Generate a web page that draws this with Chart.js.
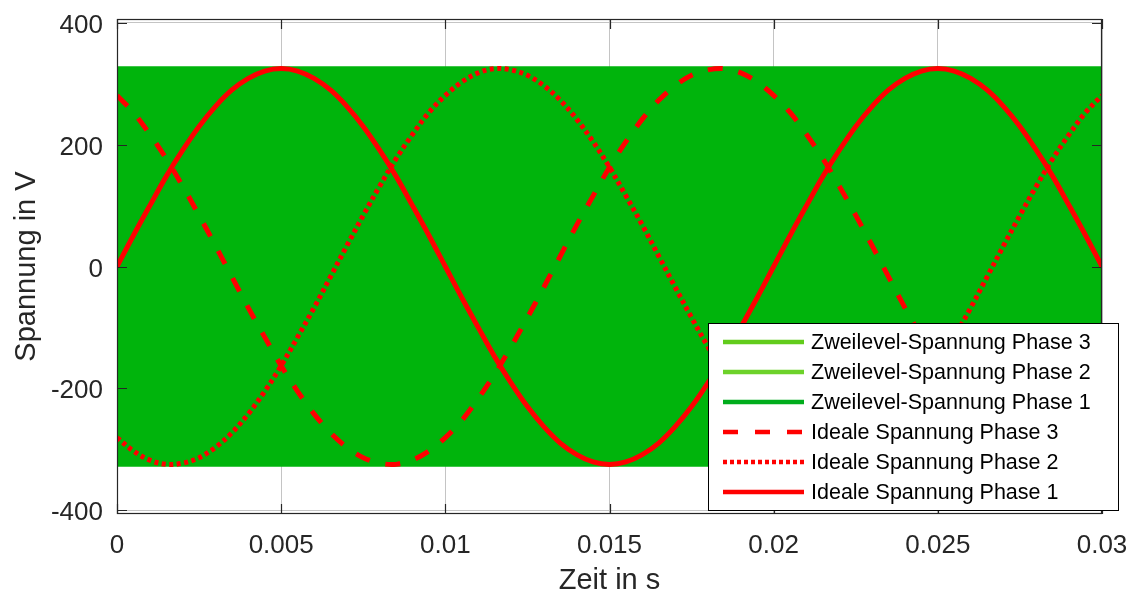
<!DOCTYPE html>
<html>
<head>
<meta charset="utf-8">
<script src="https://cdn.jsdelivr.net/npm/chart.js@4/dist/chart.umd.min.js"></script>
<style>
    html, body { margin: 0; padding: 0; background: #fff; }
    #wrap { width: 1135px; height: 595px; }
</style>
</head>
<body>
<div id="wrap"><canvas id="spannungChart" width="1135" height="595"></canvas></div>
<script>
// Zeitpunkte in s
const zeit = [0, 0.0005, 0.001, 0.0015, 0.002, 0.0025, 0.003, 0.0035, 0.004, 0.0045,
    0.005, 0.0055, 0.006, 0.0065, 0.007, 0.0075, 0.008, 0.0085, 0.009, 0.0095,
    0.01, 0.0105, 0.011, 0.0115, 0.012, 0.0125, 0.013, 0.0135, 0.014, 0.0145,
    0.015, 0.0155, 0.016, 0.0165, 0.017, 0.0175, 0.018, 0.0185, 0.019, 0.0195,
    0.02, 0.0205, 0.021, 0.0215, 0.022, 0.0225, 0.023, 0.0235, 0.024, 0.0245,
    0.025, 0.0255, 0.026, 0.0265, 0.027, 0.0275, 0.028, 0.0285, 0.029, 0.0295, 0.03];

// Ideale Spannungen in V
const idealPhase1 = [0, 51, 100, 148, 191, 230, 263, 290, 309, 321,
    325, 321, 309, 290, 263, 230, 191, 148, 100, 51,
    0, -51, -100, -148, -191, -230, -263, -290, -309, -321,
    -325, -321, -309, -290, -263, -230, -191, -148, -100, -51,
    0, 51, 100, 148, 191, 230, 263, 290, 309, 321,
    325, 321, 309, 290, 263, 230, 191, 148, 100, 51, 0];
const idealPhase2 = [-281, -303, -318, -325, -323, -314, -297, -273, -242, -205,
    -163, -116, -68, -17, 34, 84, 132, 177, 217, 253,
    281, 303, 318, 325, 323, 314, 297, 273, 242, 205,
    163, 116, 68, 17, -34, -84, -132, -177, -217, -253,
    -281, -303, -318, -325, -323, -314, -297, -273, -242, -205,
    -163, -116, -68, -17, 34, 84, 132, 177, 217, 253, 281];
const idealPhase3 = [281, 253, 217, 177, 132, 84, 34, -17, -68, -116,
    -163, -205, -242, -273, -297, -314, -323, -325, -318, -303,
    -281, -253, -217, -177, -132, -84, -34, 17, 68, 116,
    163, 205, 242, 273, 297, 314, 323, 325, 318, 303,
    281, 253, 217, 177, 132, 84, 34, -17, -68, -116,
    -163, -205, -242, -273, -297, -314, -323, -325, -318, -303, -281];

// Zweilevel-Spannung: schaltet so schnell, dass nur das Band sichtbar ist
const zweilevelZeit = [0, 0.03];
const zweilevelOben = [329, 329];
const zweilevelUnten = [-329, -329];

const xTicks = [0, 0.005, 0.01, 0.015, 0.02, 0.025, 0.03];
const yTicks = [-400, -200, 0, 200, 400];

const legendLabels = [
    "Zweilevel-Spannung Phase 3",
    "Zweilevel-Spannung Phase 2",
    "Zweilevel-Spannung Phase 1",
    "Ideale Spannung Phase 3",
    "Ideale Spannung Phase 2",
    "Ideale Spannung Phase 1"
];
const legendColors = ["#62cc1c", "#6dd22a", "#00ad1c", "#ff0000", "#ff0000", "#ff0000"];
const legendDash = [[], [], [], [15, 17], [4, 3], []];

const textColor = "#262626";
const font = "'Liberation Sans', Arial, sans-serif";
const pts = (ys, xs = zeit) => ys.map((y, i) => ({ x: xs[i], y }));

const frameAndLegend = {
    id: "frameAndLegend",
    afterDraw(chart) {
        const { ctx, chartArea: a, scales: { x, y } } = chart;
        ctx.save();
        ctx.strokeStyle = textColor;
        ctx.lineWidth = 1.2;
        ctx.strokeRect(a.left + 0.5, a.top + 0.5, a.right - a.left - 1, a.bottom - a.top - 1);
        ctx.beginPath();
        xTicks.forEach(v => {
            const px = Math.round(x.getPixelForValue(v)) + 0.5;
            ctx.moveTo(px, a.bottom); ctx.lineTo(px, a.bottom - 10);
            ctx.moveTo(px, a.top); ctx.lineTo(px, a.top + 10);
        });
        yTicks.forEach(v => {
            const py = Math.round(y.getPixelForValue(v)) + 0.5;
            ctx.moveTo(a.left, py); ctx.lineTo(a.left + 10, py);
            ctx.moveTo(a.right, py); ctx.lineTo(a.right - 10, py);
        });
        ctx.stroke();

        // Legende
        const lx = 708, ly = 323, lw = 410, lh = 187;
        ctx.fillStyle = "#fff";
        ctx.fillRect(lx, ly, lw, lh);
        ctx.strokeStyle = "#000";
        ctx.lineWidth = 1;
        ctx.strokeRect(lx + 0.5, ly + 0.5, lw, lh);
        ctx.font = "21.5px " + font;
        ctx.textBaseline = "middle";
        legendLabels.forEach((label, i) => {
            const ry = 342 + i * 30;
            ctx.beginPath();
            ctx.strokeStyle = legendColors[i];
            ctx.lineWidth = 4.5;
            ctx.setLineDash(legendDash[i]);
            ctx.moveTo(723, ry); ctx.lineTo(804, ry);
            ctx.stroke();
            ctx.setLineDash([]);
            ctx.fillStyle = "#000";
            ctx.fillText(label, 811, ry + 1);
        });
        ctx.restore();
    }
};

const lineStyle = { borderColor: "#ff0000", borderWidth: 5, pointRadius: 0, tension: 0.35, fill: false };

new Chart(document.getElementById("spannungChart"), {
    type: "line",
    data: {
        datasets: [
            { label: legendLabels[5], data: pts(idealPhase1), ...lineStyle },
            { label: legendLabels[4], data: pts(idealPhase2), ...lineStyle, borderDash: [4, 3.5] },
            { label: legendLabels[3], data: pts(idealPhase3), ...lineStyle, borderDash: [15, 16] },
            { label: "Zweilevel oben", data: pts(zweilevelOben, zweilevelZeit), borderWidth: 0, pointRadius: 0,
              backgroundColor: "#00b40c", fill: "+1" },
            { label: "Zweilevel unten", data: pts(zweilevelUnten, zweilevelZeit), borderWidth: 0, pointRadius: 0,
              fill: false }
        ]
    },
    options: {
        responsive: false,
        animation: false,
        devicePixelRatio: 1,
        layout: { autoPadding: false, padding: { top: 19, right: 33, left: 0, bottom: 0 } },
        plugins: { legend: { display: false }, tooltip: { enabled: false } },
        scales: {
            x: {
                type: "linear",
                min: 0,
                max: 0.03,
                afterBuildTicks: s => { s.ticks = xTicks.map(v => ({ value: v })); },
                afterFit: s => { s.height = 81; s.paddingLeft = 0; s.paddingRight = 0; },
                grid: { color: "#c4c4c4", drawTicks: false },
                border: { display: false },
                ticks: {
                    color: textColor, padding: 16, maxRotation: 0,
                    font: { family: font, size: 26 },
                    callback: v => String(v)
                },
                title: {
                    display: true, text: "Zeit in s", color: textColor,
                    font: { family: font, size: 29, lineHeight: 1 }, padding: { top: 0, bottom: 0 }
                }
            },
            y: {
                type: "linear",
                min: -406.5,
                max: 406.5,
                afterBuildTicks: s => { s.ticks = yTicks.map(v => ({ value: v })); },
                afterFit: s => { s.width = 117; s.paddingTop = 0; s.paddingBottom = 0; },
                grid: { color: "#c4c4c4", drawTicks: false },
                border: { display: false },
                ticks: {
                    color: textColor, padding: 14, labelOffset: 3,
                    font: { family: font, size: 26 },
                    callback: v => String(v)
                },
                title: {
                    display: true, text: "Spannung in V", color: textColor,
                    font: { family: font, size: 29 }, padding: { top: 10, bottom: 0 }
                }
            }
        }
    },
    plugins: [frameAndLegend]
});
</script>
</body>
</html>
